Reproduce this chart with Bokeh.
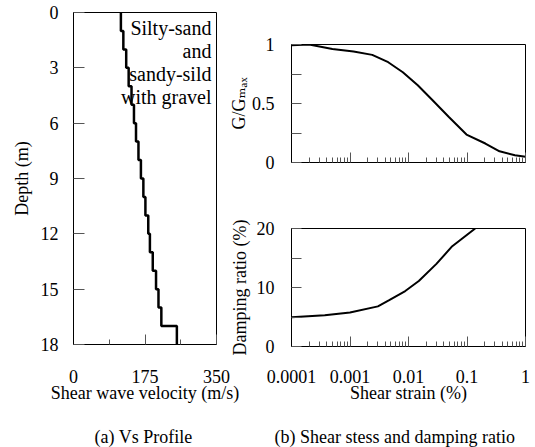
from bokeh.plotting import figure
from bokeh.models import Range1d, FixedTicker, Label
from bokeh.layouts import row, column
from bokeh.embed import file_html
from bokeh.resources import INLINE

FONT = "'Liberation Serif', 'DejaVu Serif', serif"

# ---------------- data ----------------
layer_top = [0, 1, 2, 3, 4, 5, 6, 7, 8, 9, 10, 11, 12, 13, 14, 15, 16, 17]
layer_bottom = [1, 2, 3, 4, 5, 6, 7, 8, 9, 10, 11, 12, 13, 14, 15, 16, 17, 18]
shear_velocity = [116, 122, 129, 135, 142, 148, 153, 159, 165, 171, 176, 183,
                  187, 194, 202, 208, 215, 253]
vs_ticks = [0, 175, 350]
vs_minor_ticks = [87.5, 262.5]
depth_ticks = [0, 3, 6, 9, 12, 15, 18]
soil_text = "Silty-sand\nand\nsandy-sild\nwith gravel"

strain_g = [0.0001, 0.0002, 0.0005, 0.00115, 0.0024, 0.0045, 0.008, 0.0144,
            0.0258, 0.049, 0.098, 0.206, 0.36, 0.66, 1.0]
g_ratio = [0.994, 1.0, 0.962, 0.94, 0.912, 0.85, 0.765, 0.654,
           0.527, 0.386, 0.237, 0.161, 0.095, 0.062, 0.048]

strain_d = [0.0001, 0.00037, 0.001, 0.003, 0.0046, 0.0088, 0.015, 0.03, 0.056, 0.138]
damping = [4.95, 5.3, 5.75, 6.8, 7.8, 9.4, 11.1, 14.0, 17.0, 20.0]

strain_ticks = [0.0001, 0.001, 0.01, 0.1, 1]
strain_labels = ["0.0001", "0.001", "0.01", "0.1", "1"]
strain_minor = [m * t for t in strain_ticks[:-1] for m in range(2, 10)]
g_ticks = [0, 0.25, 0.5, 0.75, 1]
g_labels = ["0", "", "0.5", "", "1"]
d_ticks = [0, 5, 10, 15, 20]
d_labels = ["0", "", "10", "", "20"]

caption_a = "(a) Vs Profile"
caption_b = "(b) Shear stess and damping ratio"


def style(p, fill="white"):
    p.xgrid.visible = False
    p.ygrid.visible = False
    p.outline_line_color = "black"
    p.outline_line_width = 1
    p.background_fill_color = "white"
    p.border_fill_color = fill
    for ax in list(p.xaxis) + list(p.yaxis):
        ax.major_tick_out = 0
        ax.minor_tick_out = 0
        ax.major_tick_line_color = "#555555"
        ax.minor_tick_line_color = "#555555"
        ax.axis_line_color = "black"
        ax.major_label_text_font = FONT
        ax.major_label_text_font_size = "18px"
        ax.major_label_text_color = "black"
        ax.axis_label_text_font = FONT
        ax.axis_label_text_font_size = "18px"
        ax.axis_label_text_font_style = "normal"
        ax.axis_label_text_color = "black"


# ---------------- (a) Vs profile ----------------
p1 = figure(width=240, height=422, x_range=Range1d(0, 350), y_range=Range1d(18, 0),
            output_backend="svg", toolbar_location=None,
            min_border_left=73, min_border_right=24, min_border_top=12, min_border_bottom=78)
style(p1)
xs, ys = [], []
for v, t, b in zip(shear_velocity, layer_top, layer_bottom):
    xs += [v, v]
    ys += [t, b]
p1.line(xs, ys, line_color="black", line_width=2.5)
p1.xaxis.ticker = FixedTicker(ticks=vs_ticks, minor_ticks=vs_minor_ticks)
p1.xaxis.major_tick_in = 10
p1.xaxis.minor_tick_in = 5
p1.xaxis.major_label_standoff = 25
p1.xaxis.axis_label = "Shear wave velocity (m/s)"
p1.xaxis.axis_label_standoff = -3
p1.yaxis.ticker = FixedTicker(ticks=depth_ticks)
p1.yaxis.major_tick_in = 11
p1.yaxis.major_label_standoff = 15
p1.yaxis.axis_label = "Depth (m)"
p1.yaxis.axis_label_standoff = 6
p1.add_layout(Label(x=138, y=328, x_units="screen", y_units="screen", text=soil_text,
                    text_align="right", text_baseline="top", text_font=FONT,
                    text_font_size="20px", text_line_height=1.05, text_color="black"))

# ---------------- (b) G/Gmax ----------------
p2 = figure(width=310, height=195, x_axis_type="log", x_range=Range1d(1e-4, 1),
            y_range=Range1d(0, 1), output_backend="svg", toolbar_location=None,
            min_border_left=66, min_border_right=8, min_border_top=44, min_border_bottom=33)
style(p2, fill=None)
p2.line(strain_g, g_ratio, line_color="black", line_width=2)
p2.xaxis.ticker = FixedTicker(ticks=strain_ticks, minor_ticks=strain_minor)
p2.xaxis.major_label_overrides = {t: "" for t in strain_ticks}
p2.xaxis.major_tick_in = 10
p2.xaxis.minor_tick_in = 5
p2.yaxis.ticker = FixedTicker(ticks=g_ticks)
p2.yaxis.major_label_overrides = dict(zip(g_ticks, g_labels))
p2.yaxis.major_tick_in = 10
p2.yaxis.major_label_standoff = 17
p2.yaxis.axis_label = "G/G\u2098\u2090\u2093"
p2.yaxis.axis_label_standoff = 0

# ---------------- (b) damping ----------------
p3 = figure(width=310, height=227, x_axis_type="log", x_range=Range1d(1e-4, 1),
            y_range=Range1d(0, 20), output_backend="svg", toolbar_location=None,
            min_border_left=64, min_border_right=10, min_border_top=33, min_border_bottom=76)
style(p3, fill=None)
p3.line(strain_d, damping, line_color="black", line_width=2)
p3.xaxis.ticker = FixedTicker(ticks=strain_ticks, minor_ticks=strain_minor)
p3.xaxis.major_label_overrides = dict(zip(strain_ticks, strain_labels))
p3.xaxis.major_tick_in = 10
p3.xaxis.minor_tick_in = 5
p3.xaxis.major_label_standoff = 23
p3.xaxis.axis_label = "Shear strain (%)"
p3.xaxis.axis_label_standoff = -3
p3.yaxis.ticker = FixedTicker(ticks=d_ticks)
p3.yaxis.major_label_overrides = dict(zip(d_ticks, d_labels))
p3.yaxis.major_tick_in = 10
p3.yaxis.major_label_standoff = 17
p3.yaxis.axis_label = "Damping ratio (%)"
p3.yaxis.axis_label_standoff = 4

# ---------------- captions ----------------
cap = figure(width=535, height=25, x_range=Range1d(0, 1), y_range=Range1d(0, 1),
             output_backend="svg", toolbar_location=None, min_border=0,
             x_axis_location=None, y_axis_location=None)
cap.xgrid.visible = False
cap.ygrid.visible = False
cap.outline_line_color = None
for txt, xpos in ((caption_a, 94), (caption_b, 274)):
    cap.add_layout(Label(x=xpos, y=11, x_units="screen", y_units="screen", text=txt,
                         text_align="left", text_baseline="alphabetic", text_font=FONT,
                         text_font_size="18px", text_color="black"))

right = column(p2, p3, margin=(0, 0, 0, -15))
layout = column(row(p1, right), cap)
open("out.html", "w").write(file_html(layout, INLINE))
